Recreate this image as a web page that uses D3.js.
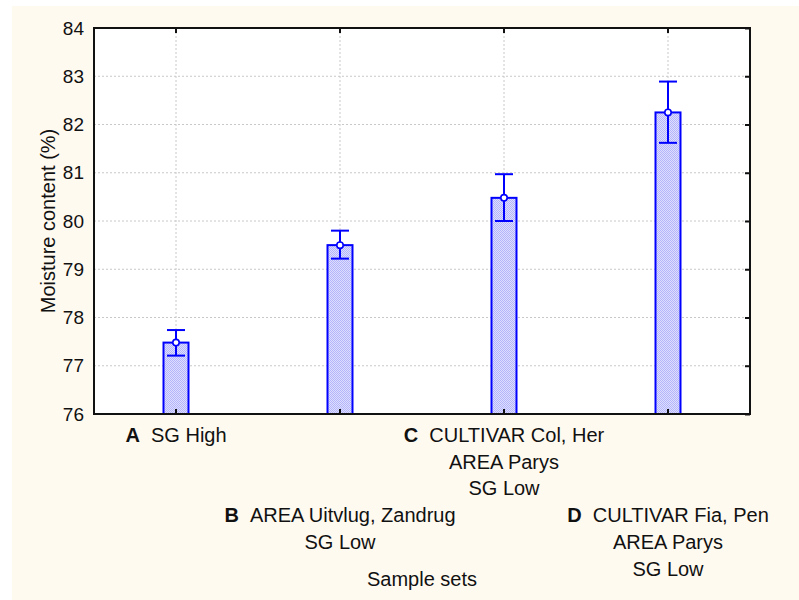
<!DOCTYPE html>
<html>
<head>
<meta charset="utf-8">
<script src="https://cdnjs.cloudflare.com/ajax/libs/d3/7.8.5/d3.min.js"></script>
<style>
  body { margin: 0; background: #ffffff; }
  svg { display: block; font-family: Arial, "Liberation Sans", sans-serif; }
</style>
</head>
<body>
<div id="chart"></div>
<script>
// sample sets and their moisture content (mean, lower and upper error limits)
var categories = ["A", "B", "C", "D"];
var labelLines = [
    ["SG High"],
    ["AREA Uitvlug, Zandrug", "SG Low"],
    ["CULTIVAR Col, Her", "AREA Parys", "SG Low"],
    ["CULTIVAR Fia, Pen", "AREA Parys", "SG Low"]
];
var means = [77.48, 79.50, 80.48, 82.25];
var lower = [77.21, 79.22, 80.00, 81.62];
var upper = [77.74, 79.80, 80.97, 82.89];
var yTicks = [76, 77, 78, 79, 80, 81, 82, 83, 84];

var W = 799, H = 600;
var margin = { top: 28, right: 49, bottom: 186, left: 94 },
    width = W - margin.left - margin.right,
    height = H - margin.top - margin.bottom;

var svg = d3.select("#chart").append("svg")
    .attr("width", W)
    .attr("height", H);

// hatched fill for the bars
var pat = svg.append("defs").append("pattern")
    .attr("id", "hatch")
    .attr("patternUnits", "userSpaceOnUse")
    .attr("width", 2).attr("height", 2);
pat.append("rect").attr("width", 2).attr("height", 2).attr("fill", "#dedeff");
pat.append("rect").attr("width", 1).attr("height", 1).attr("fill", "#b4b4fa");
pat.append("rect").attr("x", 1).attr("y", 1).attr("width", 1).attr("height", 1).attr("fill", "#b4b4fa");

svg.append("rect")
    .attr("x", 12).attr("y", 6)
    .attr("width", W - 12).attr("height", H - 6)
    .attr("fill", "#fffaf0");

var g = svg.append("g")
    .attr("transform", "translate(" + margin.left + "," + margin.top + ")");

var x = d3.scaleBand()
    .domain(categories)
    .range([0, width])
    .padding(0);

var y = d3.scaleLinear()
    .domain([76, 84])
    .range([height, 0]);

g.append("rect")
    .attr("width", width).attr("height", height)
    .attr("fill", "#ffffff");

// dotted grid
g.append("g").selectAll("line.hg")
    .data(yTicks.slice(1, -1))
    .enter().append("line")
    .attr("x1", 0).attr("x2", width)
    .attr("y1", d => y(d)).attr("y2", d => y(d))
    .attr("stroke", "#c8c8c8")
    .attr("stroke-dasharray", "2,2");

g.append("g").selectAll("line.vg")
    .data(categories)
    .enter().append("line")
    .attr("x1", d => x(d) + x.bandwidth() / 2)
    .attr("x2", d => x(d) + x.bandwidth() / 2)
    .attr("y1", 0).attr("y2", height)
    .attr("stroke", "#c8c8c8")
    .attr("stroke-dasharray", "2,2");

// y axis labels
var yAxis = g.append("g")
    .call(d3.axisLeft(y).tickValues(yTicks).tickSize(0).tickPadding(10).tickFormat(d3.format("d")));
yAxis.select(".domain").remove();
yAxis.selectAll("text")
    .attr("font-size", "19px")
    .attr("fill", "#111");

// inner ticks on right, top and bottom
var rAxis = g.append("g")
    .attr("transform", "translate(" + width + ",0)")
    .call(d3.axisLeft(y).tickValues(yTicks).tickSize(5).tickFormat(""));
rAxis.select(".domain").remove();
rAxis.selectAll("line").attr("stroke", "#111").attr("stroke-width", 2);

var tAxis = g.append("g")
    .call(d3.axisBottom(x).tickSize(5).tickFormat(""));
tAxis.select(".domain").remove();
tAxis.selectAll("line").attr("stroke", "#111").attr("stroke-width", 2);

var data = categories.map((c, i) => ({ cat: c, mean: means[i], lo: lower[i], hi: upper[i], lines: labelLines[i], i: i }));

var barW = 25, capW = 18;

g.selectAll("rect.bar")
    .data(data)
    .enter().append("rect")
    .attr("class", "bar")
    .attr("x", d => x(d.cat) + x.bandwidth() / 2 - barW / 2)
    .attr("y", d => y(d.mean))
    .attr("width", barW)
    .attr("height", d => height - y(d.mean))
    .attr("fill", "url(#hatch)")
    .attr("stroke", "#0000ff")
    .attr("stroke-width", 2);

var bAxis = g.append("g")
    .attr("transform", "translate(0," + height + ")")
    .call(d3.axisTop(x).tickSize(5).tickFormat(""));
bAxis.select(".domain").remove();
bAxis.selectAll("line").attr("stroke", "#111").attr("stroke-width", 2);

// error bars
var eb = g.selectAll("g.err")
    .data(data)
    .enter().append("g")
    .attr("transform", d => "translate(" + (x(d.cat) + x.bandwidth() / 2) + ",0)");

eb.append("line")
    .attr("y1", d => y(d.lo)).attr("y2", d => y(d.hi))
    .attr("stroke", "#0000ff").attr("stroke-width", 2);
eb.append("line")
    .attr("x1", -capW / 2).attr("x2", capW / 2)
    .attr("y1", d => y(d.hi)).attr("y2", d => y(d.hi))
    .attr("stroke", "#0000ff").attr("stroke-width", 2);
eb.append("line")
    .attr("x1", -capW / 2).attr("x2", capW / 2)
    .attr("y1", d => y(d.lo)).attr("y2", d => y(d.lo))
    .attr("stroke", "#0000ff").attr("stroke-width", 2);
eb.append("circle")
    .attr("cy", d => y(d.mean))
    .attr("r", 3.2)
    .attr("fill", "#ffffff")
    .attr("stroke", "#0000ff")
    .attr("stroke-width", 1.6);

// frame
g.append("rect")
    .attr("width", width).attr("height", height)
    .attr("fill", "none")
    .attr("stroke", "#111")
    .attr("stroke-width", 2);

// category labels, staggered in two rows
var lineH = 26.7;
var lab = g.selectAll("text.cat")
    .data(data)
    .enter().append("text")
    .attr("class", "cat")
    .attr("text-anchor", "middle")
    .attr("font-size", "20px")
    .attr("fill", "#111");

lab.each(function (d) {
    var t = d3.select(this);
    var cx = x(d.cat) + x.bandwidth() / 2;
    var y0 = height + 28 + (d.i % 2) * 3 * lineH;
    d.lines.forEach((ln, k) => {
        if (k === 0) {
            var first = t.append("tspan").attr("x", cx).attr("y", y0);
            first.append("tspan").attr("font-weight", "bold").text(d.cat);
            first.append("tspan").text("\u00a0\u00a0" + ln);
        } else {
            t.append("tspan").attr("x", cx).attr("y", y0 + k * lineH).text(ln);
        }
    });
});

g.append("text")
    .attr("x", width / 2)
    .attr("y", height + 172)
    .attr("text-anchor", "middle")
    .attr("font-size", "20px")
    .attr("fill", "#111")
    .text("Sample sets");

g.append("text")
    .attr("transform", "translate(" + (55 - margin.left) + "," + (height / 2) + ") rotate(-90)")
    .attr("text-anchor", "middle")
    .attr("font-size", "20px")
    .attr("fill", "#111")
    .text("Moisture content (%)");
</script>
</body>
</html>
